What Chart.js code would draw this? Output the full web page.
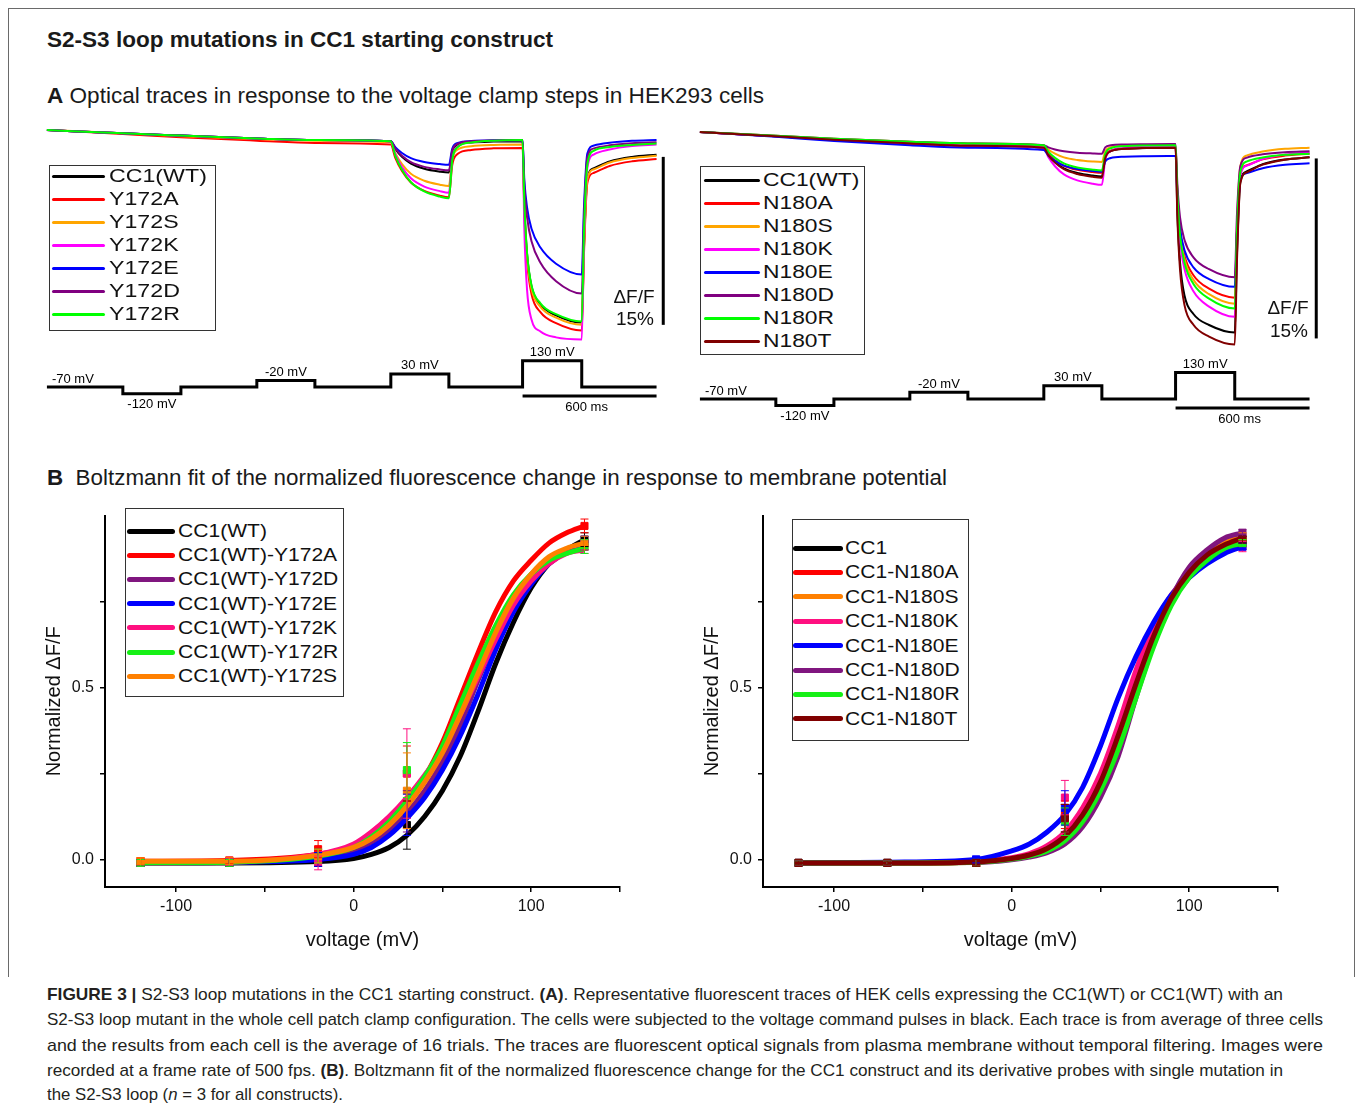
<!DOCTYPE html>
<html>
<head>
<meta charset="utf-8">
<script src="https://cdn.jsdelivr.net/npm/chart.js@4.4.0/dist/chart.umd.min.js"></script>
<style>
  body { margin: 0; background: #fff; width: 1357px; height: 1111px; position: relative; overflow: hidden;
         font-family: "Liberation Sans", Arial, sans-serif; color: #1a1a1a; }
  .abs { position: absolute; white-space: nowrap; }
  .fit { transform-origin: 0 50%; display: inline-block; }
  #frame { position: absolute; left: 8px; top: 8px; width: 1345px; height: 968px;
           border: 1.5px solid #6a6a6a; border-bottom: none; }
  .head { font-size: 22px; line-height: 26px; }
  .cap { font-size: 17px; line-height: 20px; color: #231f20; }
  .lgbox { position: absolute; border: 1.5px solid #333; background: #fff; }
  .lgtxt { position: absolute; white-space: nowrap; transform-origin: 0 50%; color: #111; }
  .lgline { position: absolute; }
  .bar { position: absolute; font-size: 19px; line-height: 22px; text-align: center; width: 50px; color: #111; }
  canvas { position: absolute; }
</style>
</head>
<body>
<div id="frame"></div>

<div class="abs head fit" style="left:47px;top:27px;font-weight:bold" data-w="506">S2-S3 loop mutations in CC1 starting construct</div>
<div class="abs head fit" style="left:47px;top:83px" data-w="717"><b>A</b> Optical traces in response to the voltage clamp steps in HEK293 cells</div>
<div class="abs head fit" style="left:47px;top:465px" data-w="900"><b>B</b>&nbsp; Boltzmann fit of the normalized fluorescence change in response to membrane potential</div>

<canvas id="aL" width="640" height="315" style="left:40px;top:115px;width:640px;height:315px"></canvas>
<canvas id="aR" width="640" height="315" style="left:693px;top:115px;width:640px;height:315px"></canvas>
<canvas id="bL" width="600" height="455" style="left:40px;top:500px;width:600px;height:455px"></canvas>
<canvas id="bR" width="600" height="455" style="left:698px;top:500px;width:600px;height:455px"></canvas>

<div class="bar" style="left:609px;top:286px">ΔF/F</div>
<div class="bar" style="left:610px;top:308px">15%</div>
<div class="bar" style="left:1263px;top:297px">ΔF/F</div>
<div class="bar" style="left:1264px;top:320px">15%</div>

<div class="abs cap fit" style="left:47px;top:985px" data-w="1236"><b>FIGURE 3 |</b> S2-S3 loop mutations in the CC1 starting construct. <b>(A)</b>. Representative fluorescent traces of HEK cells expressing the CC1(WT) or CC1(WT) with an</div>
<div class="abs cap fit" style="left:47px;top:1010px" data-w="1276">S2-S3 loop mutant in the whole cell patch clamp configuration. The cells were subjected to the voltage command pulses in black. Each trace is from average of three cells</div>
<div class="abs cap fit" style="left:47px;top:1036px" data-w="1276">and the results from each cell is the average of 16 trials. The traces are fluorescent optical signals from plasma membrane without temporal filtering. Images were</div>
<div class="abs cap fit" style="left:47px;top:1061px" data-w="1236">recorded at a frame rate of 500 fps. <b>(B)</b>. Boltzmann fit of the normalized fluorescence change for the CC1 construct and its derivative probes with single mutation in</div>
<div class="abs cap fit" style="left:47px;top:1085px" data-w="296">the S2-S3 loop (<i>n</i> = 3 for all constructs).</div>

<script>
// ---------- panel A : optical traces, % dF/F ----------
const traceTimes = [0, 340, 600, 940, 1200, 1540, 1560, 1590, 1630, 1690, 1760, 1800, 1815, 1840, 1900, 2000, 2130,
                    2138, 2150, 2170, 2210, 2280, 2395, 2405, 2420, 2450, 2520, 2620, 2730];
const stepTimes = [0, 340, 600, 940, 1200, 1540, 1800, 2130, 2395, 2730];
const stepMv = [-70, -120, -70, -20, -70, 30, -70, 130, -70, -70];
const timeBar = [2130, 2730];   // "600 ms"
const dfBarTime = 2760;         // vertical 15% bar

const namesAL = ['CC1(WT)', 'Y172A', 'Y172S', 'Y172K', 'Y172E', 'Y172D', 'Y172R'];
const colorsAL = ['#000000', '#ff0000', '#ffa500', '#ff00ff', '#0000ff', '#800080', '#00ff00'];
const tracesAL = [
  [0, -0.3, -0.5, -0.75, -0.9, -1.0, -1.7, -2.4, -3.0, -3.46, -3.72, -3.8, -1.98, -1.34, -1.11, -1.03, -1.0, -6.67, -11.04, -13.96, -15.58, -16.55, -17.2, -10.45, -4.3, -3.4, -2.8, -2.4, -2.2],
  [0, -0.35, -0.65, -0.95, -1.15, -1.3, -2.48, -3.65, -4.68, -5.44, -5.86, -6.0, -3.14, -2.13, -1.78, -1.64, -1.6, -7.3, -11.7, -14.64, -16.27, -17.25, -17.9, -11.0, -4.74, -3.82, -3.21, -2.8, -2.6],
  [0, -0.3, -0.55, -0.8, -0.95, -1.1, -2.08, -3.05, -3.91, -4.53, -4.88, -5.0, -2.6, -1.74, -1.45, -1.34, -1.3, -6.94, -11.28, -14.18, -15.79, -16.76, -17.4, -10.6, -4.4, -3.5, -2.9, -2.5, -2.3],
  [0, -0.3, -0.5, -0.75, -0.9, -1.0, -2.15, -3.3, -4.31, -5.05, -5.46, -5.6, -2.55, -1.46, -1.09, -0.95, -0.9, -8.9, -14.25, -16.92, -17.99, -18.52, -18.7, -10.0, -3.4, -2.17, -1.74, -1.44, -1.3],
  [0, -0.3, -0.5, -0.75, -0.9, -1.0, -1.53, -2.05, -2.51, -2.85, -3.04, -3.1, -1.67, -1.16, -0.99, -0.92, -0.9, -4.5, -6.9, -8.82, -10.5, -11.94, -12.9, -6.9, -2.1, -1.38, -1.14, -0.97, -0.9],
  [0, -0.3, -0.5, -0.75, -0.9, -1.0, -1.65, -2.3, -2.87, -3.29, -3.52, -3.6, -1.85, -1.22, -1.01, -0.93, -0.9, -5.01, -7.75, -9.94, -11.86, -13.5, -14.6, -7.85, -2.45, -1.64, -1.37, -1.18, -1.1],
  [0, -0.3, -0.5, -0.75, -0.9, -1.0, -2.28, -3.55, -4.67, -5.49, -5.95, -6.1, -2.72, -1.52, -1.11, -0.95, -0.9, -6.57, -10.94, -13.86, -15.48, -16.45, -17.1, -9.15, -3.1, -1.84, -1.52, -1.33, -1.2]
];

const namesAR = ['CC1(WT)', 'N180A', 'N180S', 'N180K', 'N180E', 'N180D', 'N180R', 'N180T'];
const colorsAR = ['#000000', '#ff0000', '#ffa500', '#ff00ff', '#0000ff', '#800080', '#00ff00', '#800000'];
const tracesAR = [
  [0, -0.35, -0.65, -0.95, -1.15, -1.3, -1.9, -2.5, -3.03, -3.41, -3.63, -3.7, -2.14, -1.59, -1.4, -1.32, -1.3, -6.69, -10.85, -13.62, -15.16, -16.08, -16.7, -10.13, -4.14, -3.27, -2.68, -2.29, -2.1],
  [0, -0.35, -0.65, -0.95, -1.15, -1.3, -1.83, -2.35, -2.81, -3.15, -3.34, -3.4, -2.04, -1.55, -1.38, -1.32, -1.3, -5.05, -8.18, -10.3, -11.93, -13.05, -13.8, -8.4, -3.48, -2.76, -2.28, -1.96, -1.8],
  [0, -0.3, -0.55, -0.8, -0.95, -1.1, -1.45, -1.8, -2.11, -2.33, -2.46, -2.5, -1.59, -1.27, -1.16, -1.11, -1.1, -5.06, -8.36, -10.6, -12.32, -13.51, -14.3, -7.8, -2.86, -1.95, -1.63, -1.4, -1.3],
  [0, -0.35, -0.65, -0.95, -1.15, -1.3, -2.08, -2.85, -3.53, -4.03, -4.31, -4.4, -2.32, -1.58, -1.33, -1.23, -1.2, -5.46, -9.01, -11.42, -13.27, -14.55, -15.4, -9.24, -3.62, -2.8, -2.25, -1.88, -1.7],
  [0, -0.4, -0.75, -1.1, -1.3, -1.5, -1.95, -2.4, -2.8, -3.08, -3.25, -3.3, -2.46, -2.16, -2.05, -2.01, -2.0, -5.27, -8.0, -9.85, -11.27, -12.25, -12.9, -8.27, -4.04, -3.42, -3.01, -2.73, -2.6],
  [0, -0.3, -0.55, -0.8, -0.95, -1.1, -1.28, -1.45, -1.6, -1.72, -1.78, -1.8, -1.28, -1.1, -1.03, -1.01, -1.0, -4.33, -7.11, -8.99, -10.44, -11.43, -12.1, -6.85, -2.86, -2.13, -1.86, -1.68, -1.6],
  [0, -0.3, -0.55, -0.8, -0.95, -1.1, -1.63, -2.15, -2.61, -2.95, -3.14, -3.2, -1.84, -1.35, -1.18, -1.12, -1.1, -5.18, -8.58, -10.89, -12.66, -13.88, -14.7, -8.25, -3.35, -2.45, -2.12, -1.9, -1.8],
  [0, -0.35, -0.65, -0.95, -1.15, -1.3, -1.93, -2.55, -3.1, -3.5, -3.73, -3.8, -2.18, -1.6, -1.4, -1.33, -1.3, -7.04, -11.47, -14.42, -16.06, -17.04, -17.7, -10.68, -4.28, -3.35, -2.72, -2.3, -2.1]
];

// ---------- panel B : Boltzmann fits and measured points ----------
const fitV = [-120, -70, -20, 0, 10, 20, 30, 40, 50, 60, 70, 80, 90, 100, 110, 120, 130];
const measV = [-120, -70, -20, 30, 130];
const xTicksB = [-100, -50, 0, 50, 100, 150];
const xLabelsB = [-100, 0, 100];
const yTicksB = [0, 0.25, 0.5, 0.75];
const yLabelsB = [0, 0.5];

const namesBL = ['CC1(WT)', 'CC1(WT)-Y172A', 'CC1(WT)-Y172D', 'CC1(WT)-Y172E', 'CC1(WT)-Y172K', 'CC1(WT)-Y172R', 'CC1(WT)-Y172S'];
const colorsBL = ['#000000', '#ff0000', '#80167f', '#0000ff', '#ff1080', '#16f016', '#ff8000'];
const fitsBL = [
  [-0.01, -0.01, -0.006, 0.003, 0.015, 0.035, 0.07, 0.125, 0.20, 0.30, 0.43, 0.57, 0.69, 0.79, 0.86, 0.90, 0.93],
  [-0.005, -0.003, 0.015, 0.04, 0.07, 0.11, 0.17, 0.24, 0.34, 0.47, 0.60, 0.72, 0.81, 0.87, 0.92, 0.95, 0.97],
  [-0.01, -0.008, 0.005, 0.025, 0.05, 0.085, 0.135, 0.20, 0.285, 0.39, 0.52, 0.64, 0.74, 0.81, 0.86, 0.895, 0.915],
  [-0.01, -0.008, 0.0, 0.015, 0.035, 0.07, 0.12, 0.18, 0.26, 0.36, 0.48, 0.61, 0.72, 0.80, 0.86, 0.895, 0.915],
  [-0.01, -0.008, 0.015, 0.045, 0.08, 0.125, 0.18, 0.245, 0.32, 0.42, 0.53, 0.64, 0.74, 0.81, 0.86, 0.89, 0.90],
  [-0.01, -0.008, 0.01, 0.035, 0.065, 0.11, 0.17, 0.24, 0.33, 0.45, 0.57, 0.68, 0.77, 0.83, 0.87, 0.89, 0.905],
  [-0.005, -0.005, 0.012, 0.035, 0.06, 0.10, 0.155, 0.225, 0.31, 0.42, 0.54, 0.66, 0.76, 0.83, 0.88, 0.905, 0.92]
];
const meansBL = [
  [-0.01, -0.01, 0.0, 0.10, 0.93],
  [-0.005, -0.003, 0.03, 0.25, 0.97],
  [-0.01, -0.008, 0.01, 0.14, 0.92],
  [-0.01, -0.008, 0.0, 0.13, 0.92],
  [-0.01, -0.008, -0.01, 0.25, 0.91],
  [-0.01, -0.01, 0.01, 0.26, 0.91],
  [-0.005, -0.005, 0.01, 0.20, 0.92]
];
const sdsBL = [
  [0.01, 0.01, 0.02, 0.07, 0.02],
  [0.01, 0.01, 0.025, 0.08, 0.02],
  [0.01, 0.01, 0.02, 0.06, 0.02],
  [0.01, 0.01, 0.02, 0.06, 0.02],
  [0.01, 0.01, 0.02, 0.13, 0.02],
  [0.01, 0.01, 0.02, 0.08, 0.02],
  [0.01, 0.01, 0.02, 0.11, 0.02]
];

const namesBR = ['CC1', 'CC1-N180A', 'CC1-N180S', 'CC1-N180K', 'CC1-N180E', 'CC1-N180D', 'CC1-N180R', 'CC1-N180T'];
const colorsBR = ['#000000', '#ff0000', '#ff8000', '#ff1080', '#0000ff', '#80167f', '#16f016', '#800000'];
const fitsBR = [
  [-0.01, -0.01, -0.007, 0.003, 0.013, 0.03, 0.065, 0.125, 0.22, 0.37, 0.52, 0.65, 0.75, 0.82, 0.875, 0.91, 0.93],
  [-0.01, -0.01, -0.007, 0.003, 0.014, 0.033, 0.07, 0.135, 0.235, 0.37, 0.53, 0.66, 0.76, 0.83, 0.88, 0.905, 0.925],
  [-0.01, -0.01, -0.008, 0.001, 0.01, 0.025, 0.055, 0.115, 0.205, 0.33, 0.48, 0.63, 0.75, 0.83, 0.885, 0.92, 0.94],
  [-0.01, -0.01, -0.006, 0.005, 0.017, 0.04, 0.08, 0.15, 0.25, 0.39, 0.55, 0.68, 0.77, 0.83, 0.87, 0.90, 0.915],
  [-0.01, -0.008, 0.0, 0.025, 0.045, 0.08, 0.13, 0.21, 0.33, 0.47, 0.59, 0.69, 0.77, 0.82, 0.86, 0.89, 0.91],
  [-0.01, -0.01, -0.009, -0.001, 0.007, 0.02, 0.045, 0.095, 0.18, 0.30, 0.47, 0.63, 0.76, 0.85, 0.90, 0.935, 0.95],
  [-0.01, -0.01, -0.008, 0.001, 0.01, 0.025, 0.055, 0.11, 0.20, 0.32, 0.47, 0.62, 0.74, 0.82, 0.87, 0.905, 0.92],
  [-0.01, -0.01, -0.007, 0.003, 0.013, 0.032, 0.068, 0.13, 0.225, 0.36, 0.51, 0.65, 0.76, 0.835, 0.885, 0.915, 0.935]
];
const meansBR = [
  [-0.01, -0.01, -0.01, 0.12, 0.93],
  [-0.01, -0.01, -0.01, 0.13, 0.92],
  [-0.01, -0.01, -0.01, 0.12, 0.94],
  [-0.01, -0.01, -0.01, 0.18, 0.91],
  [-0.01, -0.01, 0.0, 0.15, 0.91],
  [-0.01, -0.01, -0.01, 0.12, 0.95],
  [-0.01, -0.01, -0.01, 0.11, 0.92],
  [-0.01, -0.01, -0.01, 0.12, 0.93]
];
const sdsBR = [
  [0.005, 0.005, 0.01, 0.04, 0.01],
  [0.005, 0.005, 0.01, 0.04, 0.01],
  [0.005, 0.005, 0.01, 0.04, 0.01],
  [0.005, 0.005, 0.01, 0.05, 0.015],
  [0.005, 0.005, 0.01, 0.05, 0.01],
  [0.005, 0.005, 0.01, 0.04, 0.01],
  [0.005, 0.005, 0.01, 0.04, 0.01],
  [0.005, 0.005, 0.01, 0.04, 0.01]
];

Chart.defaults.font.family = '"Liberation Sans", Arial, sans-serif';
Chart.defaults.color = '#111';
Chart.defaults.animation = false;

// voltage protocol labels + scale bars, placed from the chart's own scales
const protocolPlugin = {
  id: 'protocol',
  afterDatasetsDraw(chart, args, opts) {
    const { ctx } = chart;
    const xs = chart.scales.x, vs = chart.scales.v, ys = chart.scales.y;
    ctx.save();
    ctx.fillStyle = '#000';
    ctx.strokeStyle = '#000';
    ctx.font = '13px "Liberation Sans", Arial, sans-serif';
    ctx.textBaseline = 'middle';
    ctx.textAlign = 'left';
    ctx.fillText(stepMv[0] + ' mV', xs.getPixelForValue(stepTimes[0]) + 5, vs.getPixelForValue(stepMv[0]) - 8);
    ctx.textAlign = 'center';
    for (let i = 1; i < stepMv.length - 1; i++) {
      if (stepMv[i] === stepMv[0]) continue;
      const mid = (xs.getPixelForValue(stepTimes[i]) + xs.getPixelForValue(stepTimes[i + 1])) / 2;
      const yl = vs.getPixelForValue(stepMv[i]);
      ctx.fillText(stepMv[i] + ' mV', mid, stepMv[i] < stepMv[0] ? yl + 11 : yl - 8);
    }
    // 600 ms bar
    const yb = vs.getPixelForValue(stepMv[0]) + 9;
    const x0 = xs.getPixelForValue(timeBar[0]), x1 = xs.getPixelForValue(timeBar[1]);
    ctx.lineWidth = 3;
    ctx.beginPath(); ctx.moveTo(x0, yb); ctx.lineTo(x1, yb); ctx.stroke();
    ctx.fillText((timeBar[1] - timeBar[0]) + ' ms', (x0 + x1) / 2 - 3, yb + 11);
    // 15 % dF/F bar
    const xd = xs.getPixelForValue(dfBarTime);
    ctx.beginPath();
    ctx.moveTo(xd, ys.getPixelForValue(opts.dfTop));
    ctx.lineTo(xd, ys.getPixelForValue(opts.dfTop - 15));
    ctx.stroke();
    ctx.restore();
  }
};

function traceChart(id, colors, traces, yMin, yMax, vMin, vMax, dfTop) {
  const datasets = traces.map((vals, i) => ({
    data: vals.map((v, k) => ({ x: traceTimes[k], y: v })),
    borderColor: colors[i], borderWidth: 2, pointRadius: 0,
    cubicInterpolationMode: 'monotone', yAxisID: 'y', order: traces.length - i + 1
  }));
  // command pulses: each segment holds the level of its starting point
  datasets.push({
    data: stepMv.map((v, k) => ({ x: stepTimes[k], y: v })),
    borderColor: '#000', borderWidth: 3, pointRadius: 0, stepped: 'before', yAxisID: 'v', order: 0
  });
  new Chart(document.getElementById(id), {
    type: 'line',
    data: { datasets },
    plugins: [protocolPlugin],
    options: {
      responsive: false,
      layout: { padding: 0 },
      scales: {
        x: { type: 'linear', display: false, min: -31, max: 2835 },
        y: { display: false, min: yMin, max: yMax },
        v: { display: false, min: vMin, max: vMax }
      },
      plugins: { legend: { display: false }, tooltip: { enabled: false }, protocol: { dfTop } }
    }
  });
}

traceChart('aL', colorsAL, tracesAL, -26.79, 1.34, -395, 1991, -2.4);
traceChart('aR', colorsAR, tracesAR, -24.83, 1.42, -305, 2081, -2.2);

const errorBars = {
  id: 'errorBars',
  afterDatasetsDraw(chart, args, opts) {
    const { ctx } = chart;
    const xs = chart.scales.x, ys = chart.scales.y;
    ctx.save();
    ctx.lineWidth = 1;
    opts.sets.forEach(s => {
      ctx.strokeStyle = s.color;
      measV.forEach((v, k) => {
        const px = xs.getPixelForValue(v);
        const t = ys.getPixelForValue(s.mean[k] + s.sd[k]);
        const b = ys.getPixelForValue(s.mean[k] - s.sd[k]);
        ctx.beginPath();
        ctx.moveTo(px, t); ctx.lineTo(px, b);
        ctx.moveTo(px - 4, t); ctx.lineTo(px + 4, t);
        ctx.moveTo(px - 4, b); ctx.lineTo(px + 4, b);
        ctx.stroke();
      });
    });
    ctx.restore();
  }
};

function boltzChart(id, colors, fits, means, sds) {
  const n = fits.length;
  const datasets = [];
  fits.forEach((vals, i) => {
    datasets.push({
      data: vals.map((v, k) => ({ x: fitV[k], y: v })),
      borderColor: colors[i], borderWidth: 5, pointRadius: 0,
      cubicInterpolationMode: 'monotone', order: 2 * (n - i)
    });
    datasets.push({
      data: means[i].map((v, k) => ({ x: measV[k], y: v })),
      showLine: false, pointStyle: 'rect', pointRadius: 5,
      backgroundColor: colors[i], borderColor: colors[i], order: 2 * (n - i) - 1
    });
  });
  const axisGrid = { display: true, drawOnChartArea: false, drawTicks: true, tickLength: 5, color: '#000', lineWidth: 1.5 };
  new Chart(document.getElementById(id), {
    type: 'line',
    data: { datasets },
    plugins: [errorBars],
    options: {
      responsive: false,
      layout: { padding: { top: 10, right: 20, left: 0, bottom: 0 } },
      scales: {
        x: {
          type: 'linear', min: -140, max: 150,
          afterBuildTicks: s => { s.ticks = xTicksB.map(v => ({ value: v })); },
          afterFit: s => { s.height = 68; },
          ticks: { autoSkip: false, maxRotation: 0, padding: 5, font: { size: 16 },
                   callback: v => xLabelsB.includes(v) ? String(v) : '' },
          grid: axisGrid,
          border: { display: true, color: '#000', width: 2 },
          title: { display: true, text: 'voltage (mV)', font: { size: 20 }, padding: { top: 6, bottom: 3 } }
        },
        y: {
          min: -0.08, max: 1.0,
          afterBuildTicks: s => { s.ticks = yTicksB.map(v => ({ value: v })); },
          afterFit: s => { s.width = 65; },
          ticks: { padding: 6, font: { size: 16 },
                   callback: v => yLabelsB.includes(v) ? v.toFixed(1) : '' },
          grid: axisGrid,
          border: { display: true, color: '#000', width: 2 },
          title: { display: true, text: 'Normalized ΔF/F', font: { size: 20 }, padding: { top: 2, bottom: 3 } }
        }
      },
      plugins: {
        legend: { display: false }, tooltip: { enabled: false },
        errorBars: { sets: means.map((m, i) => ({ mean: m, sd: sds[i], color: colors[i] })) }
      }
    }
  });
}

boltzChart('bL', colorsBL, fitsBL, meansBL, sdsBL);
boltzChart('bR', colorsBR, fitsBR, meansBR, sdsBR);

// ---------- legends (html boxes) ----------
function legend(names, colors, o) {
  const box = document.createElement('div');
  box.className = 'lgbox';
  Object.assign(box.style, { left: o.left + 'px', top: o.top + 'px', width: o.width + 'px', height: o.height + 'px' });
  document.body.appendChild(box);
  names.forEach((name, i) => {
    const cy = o.row0 + i * o.gap;
    const ln = document.createElement('div');
    ln.className = 'lgline';
    Object.assign(ln.style, { left: o.x0 + 'px', top: (cy - o.lw / 2) + 'px', width: (o.x1 - o.x0) + 'px',
                              height: o.lw + 'px', background: colors[i], borderRadius: (o.lw / 2) + 'px' });
    document.body.appendChild(ln);
    const tx = document.createElement('div');
    tx.className = 'lgtxt';
    tx.textContent = name;
    Object.assign(tx.style, { left: o.tx + 'px', top: (cy - 12) + 'px', lineHeight: '24px',
                              fontSize: o.fs + 'px', transform: 'scaleX(' + o.sx + ')' });
    document.body.appendChild(tx);
  });
}
legend(namesAL, colorsAL, { left: 49, top: 165, width: 165, height: 164, row0: 176, gap: 23, x0: 52, x1: 105, lw: 3, tx: 109, fs: 19, sx: 1.22 });
legend(namesAR, colorsAR, { left: 700, top: 166, width: 163, height: 187, row0: 180, gap: 23, x0: 704, x1: 760, lw: 3, tx: 763, fs: 19, sx: 1.2 });
legend(namesBL, colorsBL, { left: 125, top: 508, width: 217, height: 187, row0: 531, gap: 24.2, x0: 127, x1: 175, lw: 5, tx: 178, fs: 18, sx: 1.17 });
legend(namesBR, colorsBR, { left: 792, top: 519, width: 175, height: 220, row0: 548, gap: 24.4, x0: 793, x1: 843, lw: 5, tx: 845, fs: 18, sx: 1.17 });

// stretch headings and caption lines to the widths in the figure
document.querySelectorAll('.fit').forEach(el => {
  const w = el.getBoundingClientRect().width;
  el.style.transform = 'scaleX(' + (parseFloat(el.dataset.w) / w) + ')';
});
</script>
</body>
</html>
